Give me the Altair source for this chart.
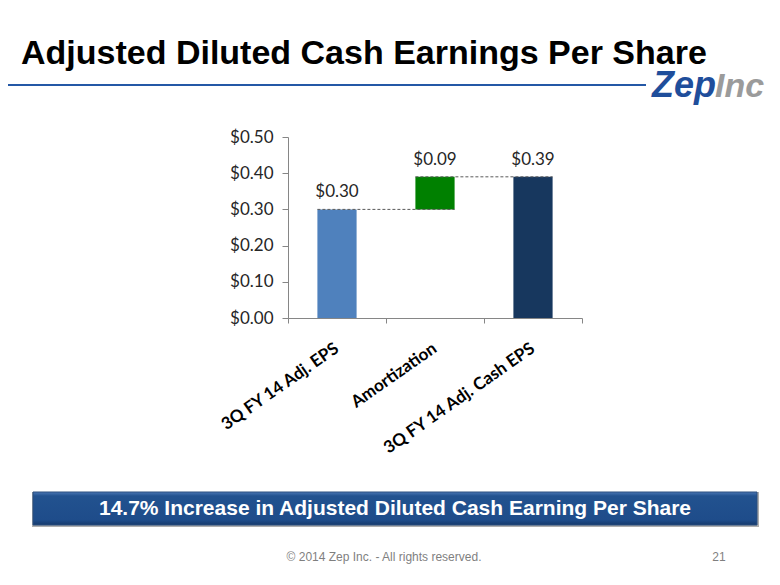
import altair as alt
import pandas as pd

categories = ["3Q FY 14 Adj. EPS", "Amortization", "3Q FY 14 Adj. Cash EPS"]
values = [0.30, 0.09, 0.39]
bases = [0.0, 0.30, 0.0]
value_labels = ["$0.30", "$0.09", "$0.39"]
bar_colors = ["#4F81BD", "#008000", "#17375E"]
y_ticks = [0.0, 0.1, 0.2, 0.3, 0.4, 0.5]

title_text = "Adjusted Diluted Cash Earnings Per Share"
banner_text = "14.7% Increase in Adjusted Diluted Cash Earning Per Share"
footer_text = "\u00a9 2014  Zep Inc. - All rights reserved."
page_number = "21"

HALF = 0.2  # half bar width in category units
rows = []
for i, (c, v, b, l, col) in enumerate(zip(categories, values, bases, value_labels, bar_colors)):
    rows.append({"cat": c, "mid": i + 0.5, "x0": i + 0.5 - HALF, "x1": i + 0.5 + HALF,
                 "base": b, "top": round(b + v, 4), "label": l, "color": col})
df = pd.DataFrame(rows)

# connectors: from top of one bar to the next bar
conn = pd.DataFrame([
    {"x0": df.x0[0], "x1": df.x1[1], "y": df.top[0]},
    {"x0": df.x0[1], "x1": df.x1[2], "y": df.top[1]},
])

W, H = 294, 181
OX, OY = 288, 137  # page position of plot origin
def px(x): return x - OX
def py(y): return y - OY

xscale = alt.Scale(domain=[0, 3], nice=False, zero=False)
yscale = alt.Scale(domain=[0, 0.5], nice=False)
xaxis = alt.Axis(values=[0, 1, 2, 3], labels=False, title=None, grid=False,
                 tickSize=5, tickColor="#868686", domainColor="#868686")
yaxis = alt.Axis(values=y_ticks, format="$.2f", title=None, grid=False,
                 tickSize=6, tickColor="#868686", domainColor="#868686",
                 labelFont="Lato", labelFontSize=17, labelColor="#262626",
                 labelPadding=9, labelOverlap=False, labelBound=False)

bars = alt.Chart(df).mark_bar().encode(
    x=alt.X("x0:Q", scale=xscale, axis=xaxis),
    x2="x1:Q",
    y=alt.Y("base:Q", scale=yscale, axis=yaxis),
    y2="top:Q",
    color=alt.Color("color:N", scale=None),
)

connectors = alt.Chart(conn).mark_rule(color="#595959", strokeDash=[3, 2], strokeWidth=1).encode(
    x=alt.X("x0:Q", scale=xscale, axis=xaxis), x2="x1:Q",
    y=alt.Y("y:Q", scale=yscale, axis=yaxis)
)

vlabels = alt.Chart(df).mark_text(font="Lato", fontSize=17, color="#262626",
                                  baseline="middle", dy=-17).encode(
    x=alt.X("mid:Q", scale=xscale, axis=xaxis),
    y=alt.Y("top:Q", scale=yscale, axis=yaxis), text="label:N"
)

catlabels = alt.Chart(df).mark_text(font="Lato", fontWeight="bold", fontSize=17, color="#000000",
                                    align="right", baseline="middle", angle=325).encode(
    x=alt.X("mid:Q", scale=xscale, axis=xaxis), y=alt.value(H + 29), text="cat:N"
)

one = alt.Data(values=[{"a": 1}])

title = alt.Chart(one).mark_text(text=title_text, font="Liberation Sans", fontWeight="bold",
                                 fontSize=34, color="#000000", align="left",
                                 baseline="alphabetic").encode(
    x=alt.value(px(21)), y=alt.value(py(64)))

hline = alt.Chart(one).mark_rule(color="#2458A6", strokeWidth=2).encode(
    x=alt.value(px(0)), x2=alt.value(px(646)), y=alt.value(py(85)))

logo_zep = alt.Chart(one).mark_text(text="Zep", font="Liberation Sans", fontWeight="bold",
                                    fontStyle="italic", fontSize=36, color="#1F4E9B",
                                    align="left", baseline="alphabetic").encode(
    x=alt.value(px(652)), y=alt.value(py(97)))
logo_inc = alt.Chart(one).mark_text(text="Inc", font="Liberation Sans", fontWeight="bold",
                                    fontStyle="italic", fontSize=34, color="#9B9B9B",
                                    align="left", baseline="alphabetic").encode(
    x=alt.value(px(715)), y=alt.value(py(97)))

banner_shadow = alt.Chart(one).mark_rect(color="#9A9A9A", opacity=0.8).encode(
    x=alt.value(px(32)), x2=alt.value(px(759)), y=alt.value(py(492)), y2=alt.value(py(527)))
banner = alt.Chart(one).mark_rect(
    color=alt.Gradient(gradient="linear", x1=0, x2=0, y1=0, y2=1,
                       stops=[alt.GradientStop(offset=0, color="#4A76B4"),
                              alt.GradientStop(offset=0.12, color="#22528F"),
                              alt.GradientStop(offset=0.85, color="#1E4C8A"),
                              alt.GradientStop(offset=1, color="#15396B")]),
    stroke="#2B4F7E", strokeWidth=1).encode(
    x=alt.value(px(33)), x2=alt.value(px(757)), y=alt.value(py(492)), y2=alt.value(py(525)))
banner_txt = alt.Chart(one).mark_text(text=banner_text, font="Liberation Sans", fontWeight="bold",
                                      fontSize=21, color="#FFFFFF", align="center",
                                      baseline="middle").encode(
    x=alt.value(px(395)), y=alt.value(py(509)))

footer = alt.Chart(one).mark_text(text=footer_text, font="Liberation Sans", fontSize=12,
                                  color="#7F7F7F", align="center", baseline="middle").encode(
    x=alt.value(px(384)), y=alt.value(py(557)))
pnum = alt.Chart(one).mark_text(text=page_number, font="Liberation Sans", fontSize=12,
                                color="#7F7F7F", align="center", baseline="middle").encode(
    x=alt.value(px(719)), y=alt.value(py(557)))

chart = alt.layer(
    bars, connectors, vlabels, catlabels,
    title, hline, logo_zep, logo_inc, banner_shadow, banner, banner_txt, footer, pnum
).properties(
    width=W, height=H,
    autosize=alt.AutoSizeParams(type="none"),
    padding={"left": OX - 8, "top": OY - 8, "right": 764 - (OX - 8) - W, "bottom": 566 - (OY - 8) - H},
).configure(background="#FFFFFF", view=alt.ViewConfig(stroke=None))

chart.save("out.html", embed_options={"renderer": "svg", "actions": False})
